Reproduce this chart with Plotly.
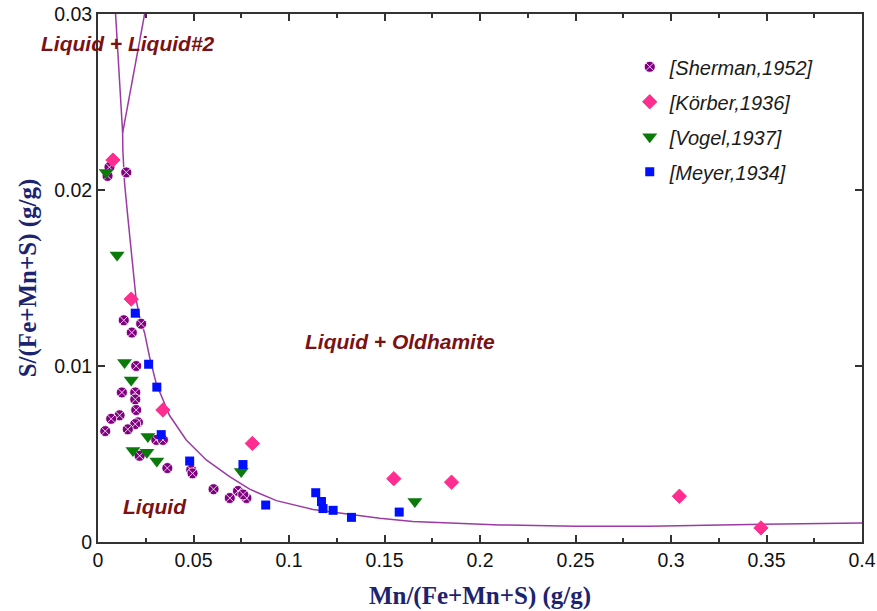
import plotly.graph_objects as go

# Experimental S vs Mn solubility data (mass fractions)
sherman_mn = [0.0050, 0.0060, 0.0148, 0.0135, 0.0226, 0.0177, 0.0200, 0.0125, 0.0195, 0.0195,
              0.0200, 0.0113, 0.0069, 0.0209, 0.0195, 0.0156, 0.0038, 0.0305, 0.0340, 0.0218,
              0.0363, 0.0488, 0.0495, 0.0605, 0.0690, 0.0733, 0.0777, 0.0760]
sherman_s = [0.0208, 0.0213, 0.0210, 0.0126, 0.0124, 0.0119, 0.0100, 0.0085, 0.0085, 0.0081,
             0.0075, 0.0072, 0.0070, 0.0068, 0.0067, 0.0064, 0.0063, 0.0058, 0.0058, 0.0049,
             0.0042, 0.0041, 0.0039, 0.0030, 0.0025, 0.0029, 0.0025, 0.0027]

korber_mn = [0.0078, 0.0174, 0.0340, 0.0808, 0.1549, 0.1851, 0.3044, 0.3471]
korber_s = [0.0217, 0.0138, 0.0075, 0.0056, 0.0036, 0.0034, 0.0026, 0.0008]

vogel_mn = [0.0043, 0.0100, 0.0139, 0.0174, 0.0261, 0.0183, 0.0256, 0.0308, 0.0750, 0.1659]
vogel_s = [0.0210, 0.0163, 0.0102, 0.0092, 0.0060, 0.0052, 0.0051, 0.0046, 0.0040, 0.0023]

meyer_mn = [0.0195, 0.0265, 0.0308, 0.0331, 0.0480, 0.0759, 0.0878, 0.1140, 0.1170, 0.1178,
            0.1231, 0.1327, 0.1577]
meyer_s = [0.0130, 0.0101, 0.0088, 0.0061, 0.0046, 0.0044, 0.0021, 0.0028, 0.0023, 0.0019,
           0.0018, 0.0014, 0.0017]

# Calculated liquidus (Liquid / Liquid + Oldhamite boundary)
liq_mn = [0.0092, 0.0129, 0.0130, 0.0139, 0.0156, 0.0174, 0.0200, 0.0218, 0.0244, 0.0270,
          0.0305, 0.0374, 0.0462, 0.0567, 0.0689, 0.0794, 0.0934, 0.1126, 0.1301, 0.1475,
          0.1648, 0.1868, 0.2104, 0.2497, 0.2890, 0.3257, 0.3676, 0.4000]
liq_s = [0.0300, 0.02324, 0.02227, 0.0204, 0.01847, 0.01659, 0.01375, 0.01278, 0.01188, 0.01051,
         0.0090, 0.0072, 0.0058, 0.00466, 0.00371, 0.00300, 0.00235, 0.00185, 0.00158, 0.00135,
         0.00117, 0.00106, 0.00097, 0.00089, 0.00089, 0.00097, 0.00105, 0.00108]

# Miscibility gap boundary (Liquid + Liquid#2)
gap_mn = [0.0244, 0.0129]
gap_s = [0.0300, 0.02324]

x_ticks = [0, 0.05, 0.1, 0.15, 0.2, 0.25, 0.3, 0.35, 0.4]
y_ticks = [0, 0.01, 0.02, 0.03]

line_col = "#9b3aa5"
label_col = "#7b1113"
axis_title_col = "#1c2470"
tick_col = "#111111"

fig = go.Figure()

fig.add_trace(go.Scatter(x=liq_mn, y=liq_s, mode="lines", line=dict(color=line_col, width=1.5),
                         showlegend=False, hoverinfo="skip"))
fig.add_trace(go.Scatter(x=gap_mn, y=gap_s, mode="lines", line=dict(color=line_col, width=1.5),
                         showlegend=False, hoverinfo="skip"))

fig.add_trace(go.Scatter(x=sherman_mn, y=sherman_s, mode="markers", name="<i>[Sherman,1952]</i>",
                         legendgroup="a",
                         marker=dict(symbol="circle-x", size=11, color="#800080",
                                     line=dict(color="white", width=0.8))))
fig.add_trace(go.Scatter(x=korber_mn, y=korber_s, mode="markers", name="<i>[Körber,1936]</i>",
                         legendgroup="b",
                         marker=dict(symbol="diamond", size=11, color="#ff2d8f",
                                     line=dict(color="#ff2d8f", width=1))))
fig.add_trace(go.Scatter(x=vogel_mn, y=vogel_s, mode="markers", name="<i>[Vogel,1937]</i>",
                         legendgroup="c",
                         marker=dict(symbol="triangle-down", size=13, color="#0a7a0a",
                                     line=dict(width=0))))
fig.add_trace(go.Scatter(x=meyer_mn, y=meyer_s, mode="markers", name="<i>[Meyer,1934]</i>",
                         legendgroup="d",
                         marker=dict(symbol="square", size=9, color="#0010ff",
                                     line=dict(width=0))))

region_font = dict(family="Arial, Liberation Sans, sans-serif", size=21, color=label_col)
fig.add_annotation(x=0.0155, y=0.02835, xref="x", yref="y", text="<b><i>Liquid + Liquid#2</i></b>",
                   showarrow=False, font=region_font)
fig.add_annotation(x=0.158, y=0.01142, xref="x", yref="y", text="<b><i>Liquid + Oldhamite</i></b>",
                   showarrow=False, font=region_font)
fig.add_annotation(x=0.0296, y=0.00199, xref="x", yref="y", text="<b><i>Liquid</i></b>",
                   showarrow=False, font=region_font)

axis_common = dict(
    showline=True, linecolor="#333333", linewidth=2, mirror="ticks",
    ticks="inside", ticklen=7, tickwidth=1.5, tickcolor="#333333",
    showgrid=False, zeroline=False, automargin=False,
    tickfont=dict(family="Arial, Liberation Sans, sans-serif", size=19.5, color=tick_col),
)

title_font = dict(family="Liberation Serif, Times New Roman, serif", size=25, color=axis_title_col)

fig.update_xaxes(range=[0, 0.4], tickvals=x_ticks, ticktext=[f"{v:g}" for v in x_ticks],
                 minor=dict(ticks="inside", ticklen=4, tickcolor="#333333", dtick=0.025, tick0=0),
                 title=dict(text="<b>Mn/(Fe+Mn+S) (g/g)</b>", standoff=16, font=title_font),
                 **axis_common)
fig.update_yaxes(range=[0, 0.03], tickvals=y_ticks, ticktext=[f"{v:g}" for v in y_ticks],
                 title=dict(text="<b>S/(Fe+Mn+S) (g/g)</b>", standoff=10, font=title_font),
                 **axis_common)

fig.update_layout(
    width=877, height=611,
    margin=dict(l=98, r=15, t=14, b=69),
    plot_bgcolor="white", paper_bgcolor="white",
    legend=dict(x=0.696, y=0.937, xanchor="left", yanchor="top",
                bgcolor="rgba(0,0,0,0)", tracegroupgap=6,
                font=dict(family="Arial, Liberation Sans, sans-serif", size=20, color="#1a1a1a")),
)

fig.write_html("out.html")
